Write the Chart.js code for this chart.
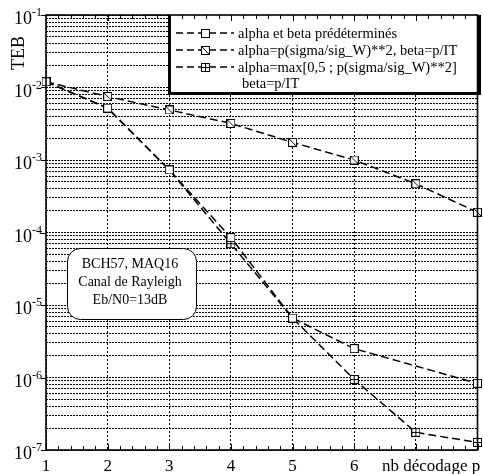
<!DOCTYPE html>
<html>
<head>
<meta charset="utf-8">
<script src="https://cdn.jsdelivr.net/npm/chart.js@4.4.1/dist/chart.umd.min.js"></script>
<style>
  html, body { margin: 0; padding: 0; background: #fff; }
  #wrap { width: 483px; height: 474px; position: relative; }
</style>
</head>
<body>
<div id="wrap"><canvas id="teb" width="483" height="474"></canvas></div>
<script>
// nombre de décodages (axe x)
const passes = [1, 2, 3, 4, 5, 6, 7, 8];
// TEB, null = pas de point
const tebPredet = [1.2e-2, 5.2e-3, 7.3e-4, 8.5e-5, 6.6e-6, 2.5e-6, null, 8.3e-7];
const tebSigma  = [1.2e-2, 7.5e-3, 4.9e-3, 3.2e-3, 1.75e-3, 1.0e-3, 4.7e-4, 1.9e-4];
const tebMax    = [1.2e-2, 5.2e-3, 7.3e-4, 7.0e-5, 6.6e-6, 9.4e-7, 1.75e-7, 1.27e-7];

const xTickLabels = ['1', '2', '3', '4', '5', '6'];
const xTitle = 'nb décodage p';
const yTitle = 'TEB';
const yDecades = [-7, -6, -5, -4, -3, -2, -1];
const legendRows = [
    'alpha et beta prédéterminés',
    'alpha=p(sigma/sig_W)**2, beta=p/IT',
    'alpha=max[0,5 ; p(sigma/sig_W)**2]',
    'beta=p/IT'
];
const noteLines = ['BCH57, MAQ16', 'Canal de Rayleigh', 'Eb/N0=13dB'];

const SERIF = '"Liberation Serif", "DejaVu Serif", serif';

// petits marqueurs carrés dessinés à la main
function makeMarker(kind) {
    const c = document.createElement('canvas');
    c.width = 9; c.height = 9;
    const g = c.getContext('2d');
    g.fillStyle = '#fff';
    g.fillRect(0, 0, 9, 9);
    g.strokeStyle = '#000';
    g.lineWidth = 1;
    g.strokeRect(0.5, 0.5, 8, 8);
    g.beginPath();
    if (kind === 'slash') {
        g.moveTo(1, 1); g.lineTo(8, 8);
    } else if (kind === 'cross') {
        g.moveTo(4.5, 1); g.lineTo(4.5, 8);
        g.moveTo(1, 4.5); g.lineTo(8, 4.5);
    }
    g.stroke();
    return c;
}
const mPlain = makeMarker('plain');
const mSlash = makeMarker('slash');
const mCross = makeMarker('cross');
const legendMarkers = [mPlain, mSlash, mCross];

function toPoints(values) {
    const pts = [];
    values.forEach((v, i) => { if (v != null) pts.push({ x: passes[i], y: v }); });
    return pts;
}

function serie(label, values, marker) {
    return {
        label: label,
        data: toPoints(values),
        borderColor: '#000',
        borderWidth: 1.5,
        borderDash: [8, 4],
        pointStyle: marker,
        pointRadius: 4,
        tension: 0,
        fill: false,
        clip: false
    };
}

// ticks de la grille log : 1..9 x 10^n
const logTicks = [];
for (let e = -7; e < -1; e++) {
    for (let m = 1; m <= 9; m++) logTicks.push({ value: m * Math.pow(10, e) });
}
logTicks.push({ value: 1e-1 });

const decor = {
    id: 'decor',
    afterDatasetsDraw(chart) {
        const c = chart.ctx;
        c.save();
        // encadré texte
        const bx = 67, by = 248, bw = 129, bh = 71, r = 13;
        c.beginPath();
        c.roundRect(bx + 0.5, by + 0.5, bw, bh, r);
        c.fillStyle = '#fff';
        c.fill();
        c.strokeStyle = '#000';
        c.lineWidth = 1;
        c.stroke();
        c.fillStyle = '#000';
        c.font = '14px ' + SERIF;
        c.textAlign = 'center';
        c.textBaseline = 'alphabetic';
        noteLines.forEach((t, i) => c.fillText(t, 130, 268 + i * 18));

        // légende : cadre épais à gauche, à droite et en bas
        const lx = 168, ly = 15, rx = 481, by2 = 95;
        c.fillStyle = '#fff';
        c.fillRect(lx, ly, rx - lx, by2 - ly);
        c.fillStyle = '#000';
        c.fillRect(lx, ly, 3, by2 - ly);
        c.fillRect(rx - 3, ly, 3, by2 - ly);
        c.fillRect(lx, by2 - 3, rx - lx, 3);
        c.font = '14.5px ' + SERIF;
        c.textAlign = 'left';
        c.textBaseline = 'middle';
        const rowsY = [33, 50, 67, 83];
        const s0 = 176, s1 = 234;
        legendRows.forEach((t, i) => {
            const y = rowsY[i];
            if (i < 3) {
                c.beginPath();
                c.setLineDash([7, 4]);
                c.lineWidth = 1.4;
                c.strokeStyle = '#000';
                c.moveTo(s0, y);
                c.lineTo(s1, y);
                c.stroke();
                c.setLineDash([]);
                const mk = legendMarkers[i];
                c.drawImage(mk, Math.round((s0 + s1) / 2 - mk.width / 2), Math.round(y - mk.height / 2));
                c.fillText(t, 238, y + 1);
            } else {
                c.fillText(t, 242, y + 1);
            }
        });
        c.restore();
    },
    afterDraw(chart) {
        const c = chart.ctx;
        const a = chart.chartArea;
        const xs = chart.scales.x, ys = chart.scales.y;
        c.save();
        c.strokeStyle = '#000';
        c.lineWidth = 1;
        // petites graduations en x, vers l'intérieur
        c.beginPath();
        for (let k = 0; k <= 35; k++) {
            const px = Math.round(xs.getPixelForValue(1 + k * 0.2)) + 0.5;
            const len = k % 5 === 0 ? 6 : 4;
            c.moveTo(px, a.bottom); c.lineTo(px, a.bottom - len);
            c.moveTo(px, a.top); c.lineTo(px, a.top + len);
        }
        // graduations des décades vers l'extérieur
        yDecades.forEach(e => {
            const py = Math.round(ys.getPixelForValue(Math.pow(10, e))) + 0.5;
            c.moveTo(a.left - 5, py); c.lineTo(a.left, py);
        });
        c.stroke();
        // cadre
        c.lineWidth = 1.6;
        c.strokeRect(a.left, a.top, a.right - a.left, a.bottom - a.top);

        // libellés y : 10^n
        c.fillStyle = '#000';
        c.textBaseline = 'alphabetic';
        yDecades.forEach(e => {
            const py = ys.getPixelForValue(Math.pow(10, e));
            const sup = String(e);
            c.font = '12px ' + SERIF;
            const sw = c.measureText(sup).width;
            c.textAlign = 'left';
            c.fillText(sup, 42 - sw, py + 1);
            c.font = '18px ' + SERIF;
            c.textAlign = 'right';
            c.fillText('10', 42 - sw, py + 9);
        });
        // libellés x
        c.font = '17px ' + SERIF;
        c.textAlign = 'center';
        xTickLabels.forEach((t, i) => {
            c.fillText(t, xs.getPixelForValue(i + 1), 471);
        });
        c.textAlign = 'left';
        c.fillText(xTitle, 382, 471);
        // titre y
        c.font = '18px ' + SERIF;
        c.translate(24, 53);
        c.rotate(-Math.PI / 2);
        c.textAlign = 'center';
        c.fillText(yTitle, 0, 0);
        c.restore();
    }
};

new Chart(document.getElementById('teb'), {
    type: 'line',
    data: {
        datasets: [
            serie(legendRows[0], tebPredet, mPlain),
            serie(legendRows[1], tebSigma, mSlash),
            serie(legendRows[2], tebMax, mCross)
        ]
    },
    options: {
        responsive: false,
        animation: false,
        spanGaps: true,
        layout: { padding: { left: 46, top: 15, right: 2, bottom: 24 } },
        plugins: { legend: { display: false }, tooltip: { enabled: false } },
        scales: {
            x: {
                type: 'linear',
                min: 1,
                max: 8,
                ticks: { display: false, stepSize: 1 },
                grid: { color: '#000', lineWidth: 1, drawTicks: false },
                border: { display: false, dash: [2, 2] }
            },
            y: {
                type: 'logarithmic',
                min: 1e-7,
                max: 1e-1,
                afterBuildTicks: scale => { scale.ticks = logTicks.map(t => ({ value: t.value })); },
                ticks: { display: false, autoSkip: false },
                grid: { color: '#000', lineWidth: 1, drawTicks: false },
                border: { display: false, dash: [2, 1] }
            }
        }
    },
    plugins: [decor]
});
</script>
</body>
</html>
